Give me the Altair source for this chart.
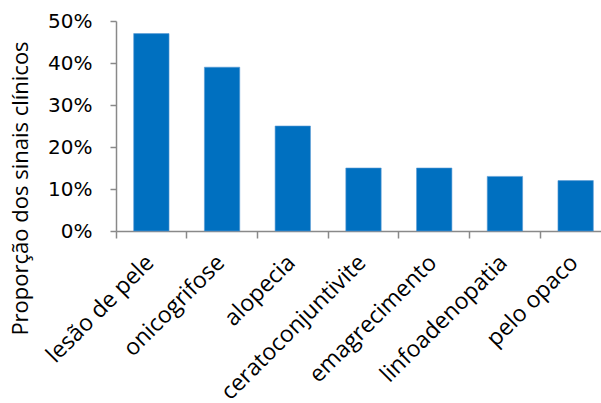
import altair as alt
import pandas as pd

categories = ["lesão de pele", "onicogrifose", "alopecia", "ceratoconjuntivite",
              "emagrecimento", "linfoadenopatia", "pelo opaco"]
values = [0.47, 0.39, 0.25, 0.15, 0.15, 0.13, 0.12]
y_ticks = [0, 0.1, 0.2, 0.3, 0.4, 0.5]

df = pd.DataFrame({"sinal": categories, "prop": values})

FONT = "Open Sans"
AX = "#898989"

chart = alt.Chart(df).mark_bar(color="#0070C0", stroke="#5B9BD5", strokeWidth=0.6).encode(
    x=alt.X("sinal:N", sort=categories,
            scale=alt.Scale(range=[0, 495], paddingInner=0.5, paddingOuter=0.25),
            axis=alt.Axis(title=None, labelAngle=-45, labelAlign="right", labelBaseline="top",
                          labelPadding=13, labelFont=FONT, labelFontSize=23, labelColor="#000",
                          domainColor=AX, tickColor=AX, tickSize=7, tickWidth=1.5, domainWidth=1.5,
                          bandPosition=-0.5, labelOffset=-9, labelLimit=400)),
    y=alt.Y("prop:Q", scale=alt.Scale(domain=[0, 0.5], nice=False),
            axis=alt.Axis(title="Proporção dos sinais clínicos", format=".0%", values=y_ticks,
                          grid=False, labelFont="DejaVu Sans", labelFontSize=20, labelColor="#000",
                          labelPadding=18, domainColor=AX, tickColor=AX, tickSize=6,
                          tickWidth=1.5, domainWidth=1.5,
                          titleFont=FONT, titleFontSize=22, titleFontWeight="normal",
                          titleColor="#000", titleX=-89, titleY=167, titleAngle=270,
                          titleBaseline="alphabetic", titleAlign="center")),
).properties(
    width=485, height=210,
    autosize=alt.AutoSizeParams(type="none"),
    padding={"left": 116, "top": 21, "right": 0, "bottom": 172},
).configure_view(stroke=None)

chart.save("out.html", embed_options={"renderer": "svg", "actions": False})
